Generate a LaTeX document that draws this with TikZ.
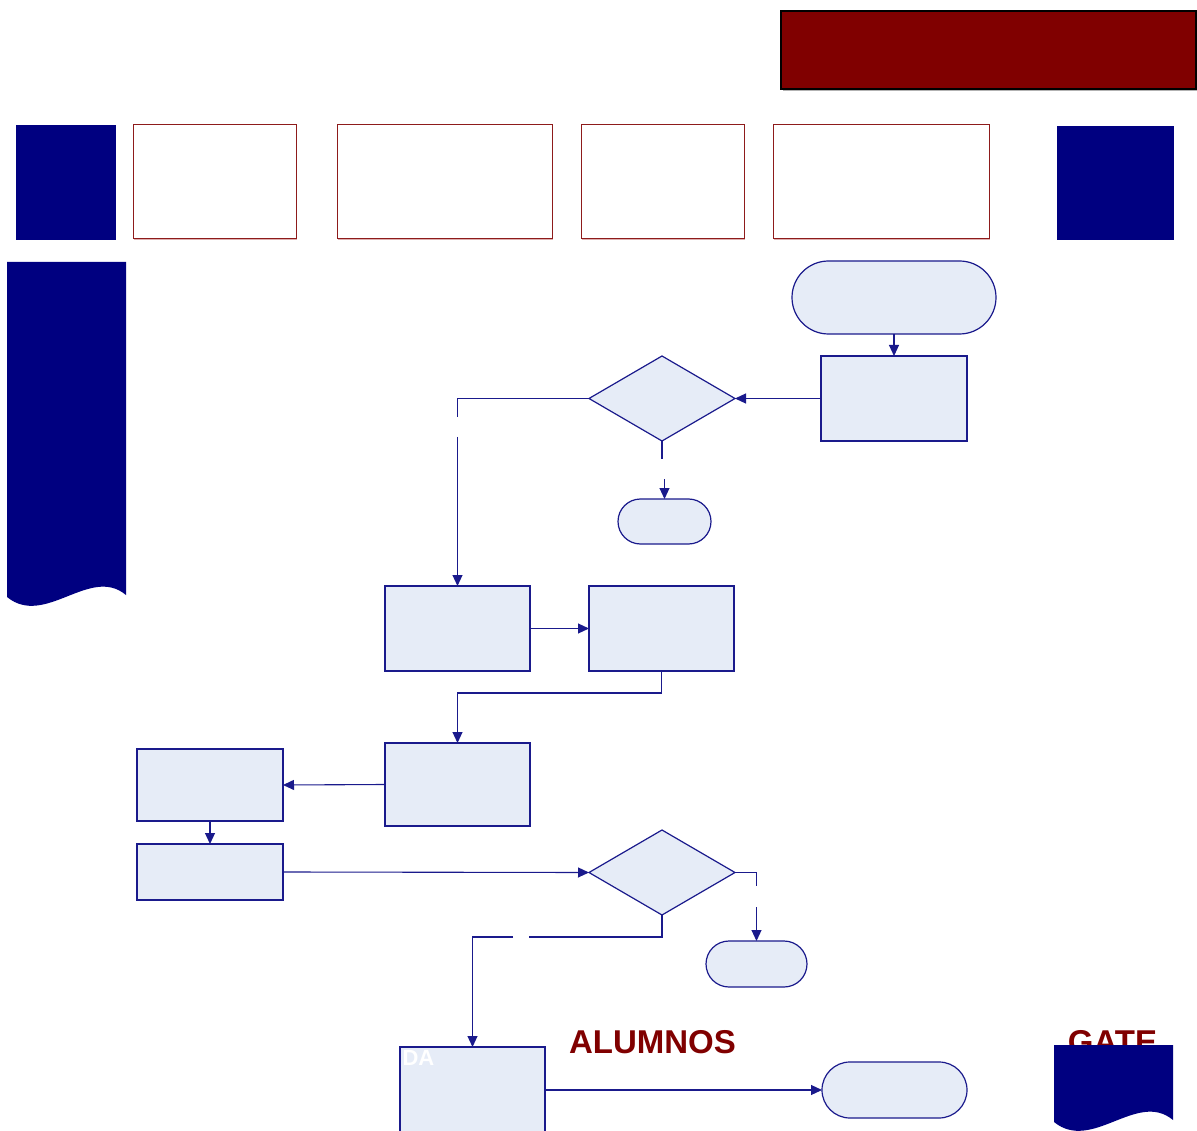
\documentclass[tikz,border=0pt]{standalone}
\usepackage{fontspec}
\setmainfont{Liberation Sans}
\usetikzlibrary{arrows.meta,shapes.geometric,shapes.misc}
\definecolor{navy}{HTML}{000080}
\definecolor{lineblue}{HTML}{1A1A8C}
\definecolor{boxfill}{HTML}{E6ECF7}
\definecolor{maroon}{HTML}{800000}
\definecolor{redline}{HTML}{8E1B1B}
\definecolor{pinkshadow}{HTML}{DDB0B0}
\tikzset{
  procbox/.style={draw=lineblue,fill=boxfill,line width=1.2pt,rectangle,inner sep=0pt,outer sep=0pt},
  termbox/.style={draw=lineblue,fill=boxfill,line width=1.2pt,rounded rectangle,inner sep=0pt,outer sep=0pt},
  decbox/.style={draw=lineblue,fill=boxfill,line width=1.2pt,diamond,inner sep=0pt,outer sep=0pt},
  hdrbox/.style={draw=redline,line width=1pt,rectangle,inner sep=0pt,outer sep=0pt},
  navybox/.style={fill=navy,rectangle,inner sep=0pt,outer sep=0pt},
  conn/.style={draw=lineblue,line width=1.1pt},
  arr/.style={conn,-{Triangle[length=11pt,width=10pt]}},
  bigtitle/.style={font=\fontsize{33}{37}\selectfont\bfseries,text=maroon,inner sep=0pt}
}
\begin{document}
\begin{tikzpicture}[x=1pt,y=-1pt]
\useasboundingbox (0,0) rectangle (1197,1131);
% banner
\fill[gray!60] (783,13) rectangle (1197,91);
\node[draw=black,fill=maroon,line width=1.5pt,inner sep=0pt,outer sep=0pt,minimum width=415pt,minimum height=78pt] (banner) at (988.5,50) {};
% header row
\node[navybox,minimum width=100pt,minimum height=115pt] (hnavl) at (66,182.5) {};
\foreach \n/\xa/\xb in {h1/133/296,h2/337/552,h3/581/744,h4/773/989}{
  \fill[pinkshadow] (\xa+1.2,126.2) rectangle (\xb+1.2,240.2);
  \node[hdrbox,fill=white,minimum width={\xb-\xa},minimum height=114pt] (\n) at ({(\xa+\xb)/2},182) {};
}
\node[navybox,minimum width=117pt,minimum height=114pt] (hnavr) at (1115.5,183) {};
% left document shape
\fill[navy] (7,262) -- (126,262) -- (126,595) .. controls (90,565) and (45,628) .. (7,597) -- cycle;
% texts at bottom
\node[bigtitle,anchor=base] (alumnos) at (652.5,1053) {ALUMNOS};
\node[bigtitle,anchor=base] (gate) at (1112.5,1053) {GATE};
% right document shape
\fill[navy] (1054,1045) -- (1173,1045) -- (1173,1120) .. controls (1137,1090) and (1092,1153) .. (1054,1122) -- cycle;
% flowchart nodes
\node[termbox,minimum width=204pt,minimum height=73pt] (start) at (894,297.5) {};
\node[procbox,minimum width=146pt,minimum height=85pt] (a) at (894,398.5) {};
\node[decbox,minimum width=146pt,minimum height=85pt] (d1) at (662,398.5) {};
\node[termbox,minimum width=93pt,minimum height=45pt] (t1) at (664.5,521.5) {};
\node[procbox,minimum width=145pt,minimum height=85pt] (b) at (457.5,628.5) {};
\node[procbox,minimum width=145pt,minimum height=85pt] (c) at (661.5,628.5) {};
\node[procbox,minimum width=145pt,minimum height=83pt] (d) at (457.5,784.5) {};
\node[procbox,minimum width=146pt,minimum height=72pt] (e) at (210,785) {};
\node[procbox,minimum width=146pt,minimum height=56pt] (f) at (210,872) {};
\node[decbox,minimum width=146pt,minimum height=85pt] (d2) at (662,872.5) {};
\node[termbox,minimum width=101pt,minimum height=46pt] (t2) at (756.5,964) {};
\node[procbox,minimum width=145pt,minimum height=86pt] (g) at (472.5,1090) {};
\node[termbox,minimum width=145pt,minimum height=56pt] (t3) at (894.5,1090) {};
\node[text=white,font=\fontsize{22}{25}\selectfont\bfseries,inner sep=0pt,anchor=base east] (glabel) at (434.5,1065.5) {DA};
% gap coordinates
\coordinate (g1a) at (457.5,417);
\coordinate (g1b) at (457.5,437);
\coordinate (g2a) at (662,459);
\coordinate (g2b) at (664.5,479);
\coordinate (g3a) at (756.5,886);
\coordinate (g3b) at (756.5,907);
\coordinate (g4a) at (529,937);
\coordinate (g4b) at (513,937);
% connectors
\draw[arr] (start.south) -- (a.north);
\draw[arr] (a.west) -- (d1.east);
\draw[conn] (d1.south) -- (g2a);
\draw[arr] (g2b) -- (t1.north);
\draw[conn] (d1.west) -| (g1a);
\draw[arr] (g1b) -- (b.north);
\draw[arr] (b.east) -- (c.west);
\draw[arr] (c.south) -- ++(0,22) -| (d.north);
\draw[arr] (d.west) -- (e.east);
\draw[arr] (e.south) -- (f.north);
\draw[arr] (f.east) -- (d2.west);
\draw[conn] (d2.east) -| (g3a);
\draw[arr] (g3b) -- (t2.north);
\draw[conn] (d2.south) |- (g4a);
\draw[arr] (g4b) -| (g.north);
\draw[arr] (g.east) -- (t3.west);
\end{tikzpicture}
\end{document}
